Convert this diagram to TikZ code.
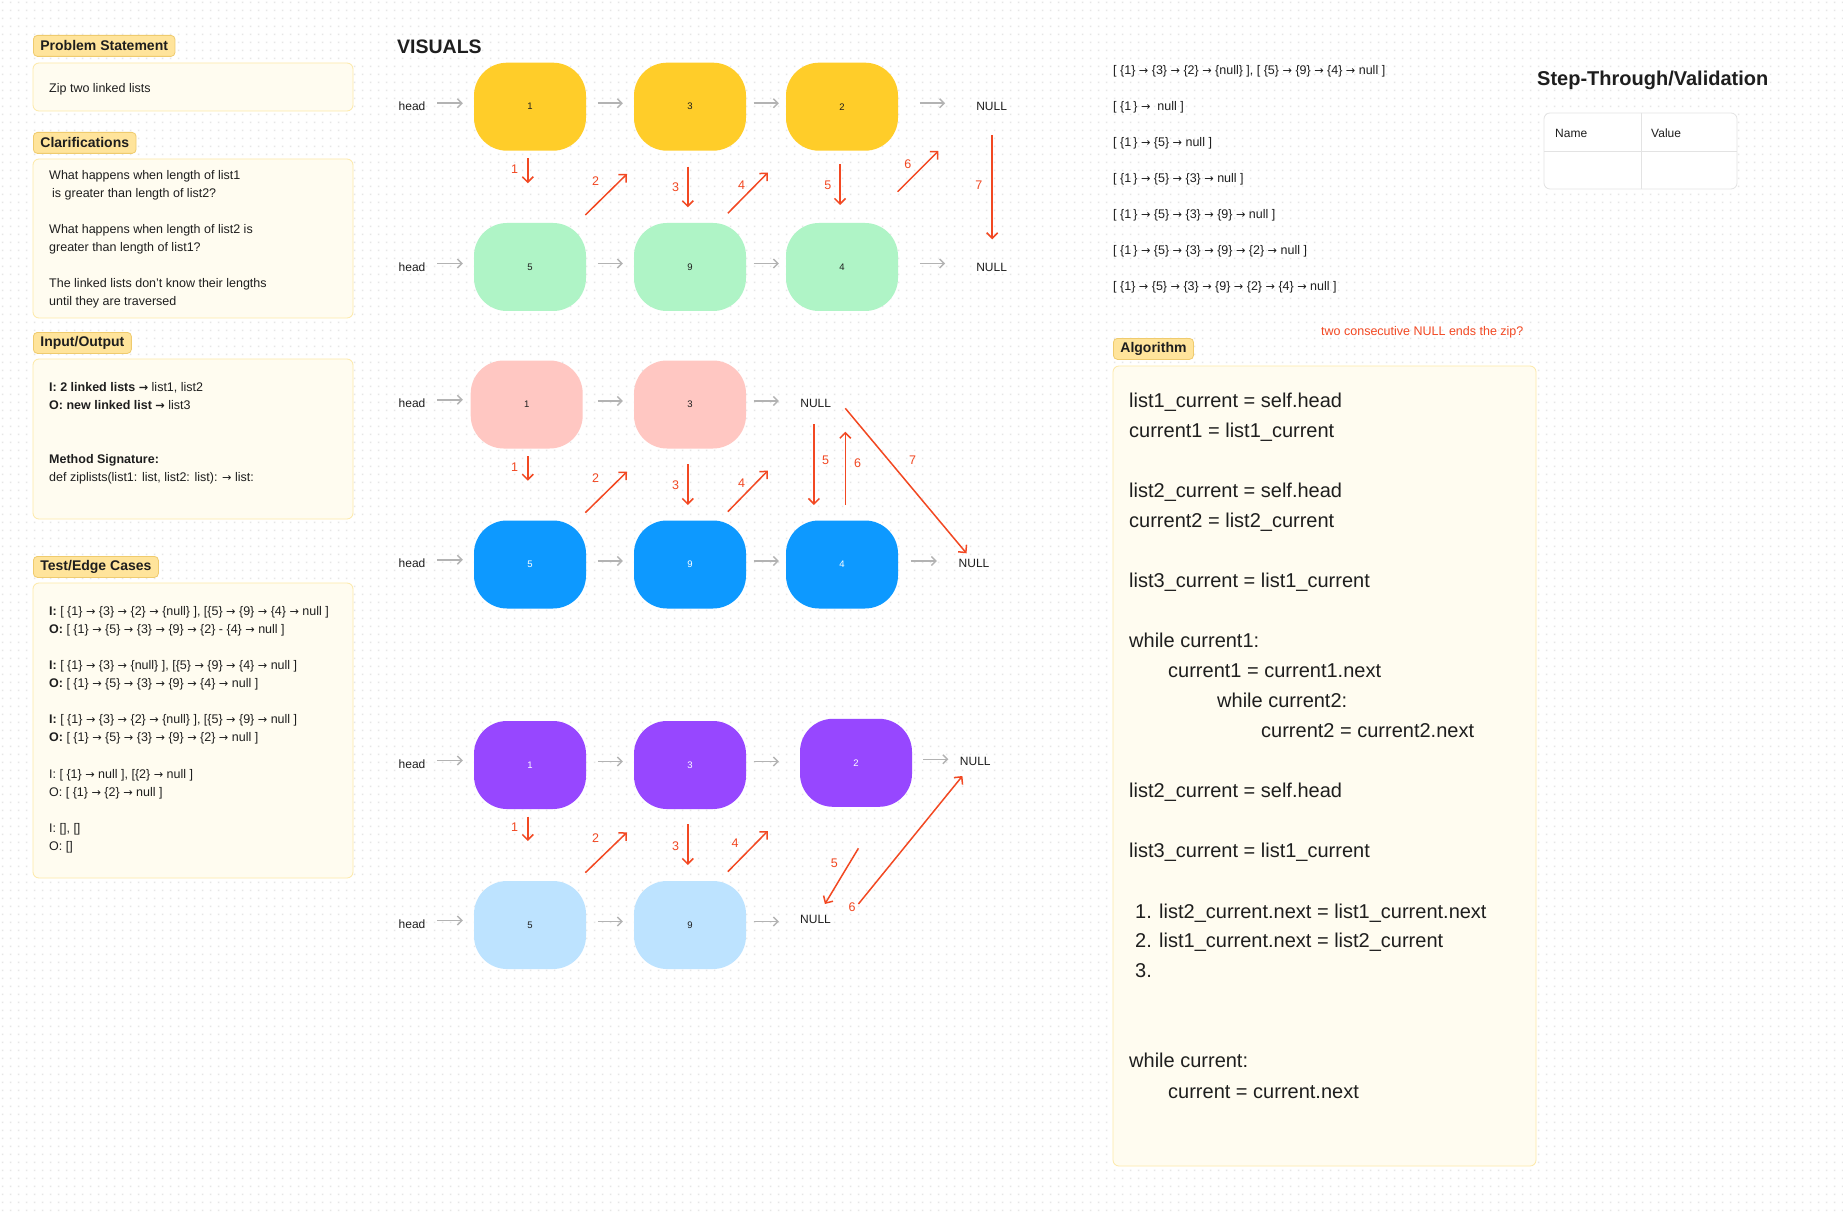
\documentclass[tikz,border=0pt]{standalone}
\usepackage{fontspec}
\setmainfont{Liberation Sans}
\newfontfamily\arrowfont{DejaVu Sans}
\usetikzlibrary{arrows.meta,patterns}
\definecolor{ink}{HTML}{1E1E1E}
\definecolor{tagfill}{HTML}{FFE49B}
\definecolor{tagborder}{HTML}{EFCB6E}
\definecolor{cardfill}{HTML}{FFFCF0}
\definecolor{cardborder}{HTML}{FDE9A7}
\definecolor{dotc}{HTML}{E6E6E6}
\definecolor{arrgray}{HTML}{B3B3B3}
\definecolor{redc}{HTML}{F24822}
\definecolor{cyellow}{HTML}{FFCD29}
\definecolor{cgreen}{HTML}{AFF4C6}
\definecolor{cpink}{HTML}{FFC7C2}
\definecolor{cblue}{HTML}{0D99FF}
\definecolor{cpurple}{HTML}{9747FF}
\definecolor{clblue}{HTML}{BDE3FF}
\definecolor{tblline}{HTML}{E3E3E3}
\newcommand\setfs[1]{\fontsize{#1}{#1}\selectfont}
\newcommand\ra{{\arrowfont\scalebox{0.9}{→}}}
\newcommand\tline[4][]{\node[txt,#1] (#2) at (#3) {#4};}
\pgfdeclarepatternformonly{griddots}{\pgfqpoint{0pt}{0pt}}{\pgfqpoint{8pt}{8pt}}{\pgfqpoint{8pt}{8pt}}{\pgfpathrectangle{\pgfqpoint{3.2pt}{3.2pt}}{\pgfqpoint{1.6pt}{1.6pt}}\pgfusepath{fill}}
\tikzset{
  txt/.style={inner sep=0pt, anchor=base west, text=ink, font=\setfs{12.5}},
  tag/.style={draw=tagborder, fill=tagfill, rounded corners=4pt, inner xsep=7pt, inner ysep=0pt, minimum height=21pt, anchor=north west, font=\setfs{14}\bfseries, text=ink, line width=0.8pt},
  card/.style={draw=cardborder, fill=cardfill, rounded corners=6pt, line width=0.8pt},
  lnode/.style={rectangle, rounded corners=33pt, minimum width=112pt, minimum height=88pt, inner sep=0pt, font=\setfs{9.5}},
  garrow/.style={draw=arrgray, line width=1.4pt, -{Straight Barb[length=4.5pt,width=9pt]}},
  rarrow/.style={draw=redc, line width=1.5pt, -{Straight Barb[length=5.5pt,width=11pt]}},
  rlab/.style={text=redc, font=\setfs{12.5}, inner sep=0pt},
  vtxt/.style={inner sep=0pt, font=\setfs{12}, text=ink},
}
\newcommand\garr[4]{\draw[garrow, shorten <=#3pt, shorten >=#4pt] ([yshift=3.5pt]#1.east) -- ([yshift=3.5pt]#1.east -| #2.west);}
\newcommand\rarr[5]{\draw[rarrow] (#1) coordinate (#4s) -- (#2) coordinate (#4e); \node[rlab] (#4l) at (#3) {#5};}
\begin{document}
\begin{tikzpicture}[x=1pt,y=-1pt]
\useasboundingbox (0,0) rectangle (1843,1214);
\fill[white] (0,0) rectangle (1843,1214);
\fill[pattern=griddots, pattern color=dotc] (0,0) rectangle (1843,1214);

% ---------------- left column ----------------
\node[tag] (tagps) at (33,35) {Problem Statement};
\draw[card] (33,63) rectangle (353,111);
\tline{ps1}{49,92.5}{Zip two linked lists}

\node[tag] (tagcl) at (33,132) {Clarifications};
\draw[card] (33,159) rectangle (353,318);
\tline{cl1}{49,179.5}{What happens when length of list1}
\tline{cl2}{49,197.5}{\hspace{3pt}is greater than length of list2?}
\tline{cl3}{49,233.5}{What happens when length of list2 is}
\tline{cl4}{49,251.5}{greater than length of list1?}
\tline{cl5}{49,287.5}{The linked lists don’t know their lengths}
\tline{cl6}{49,305.5}{until they are traversed}

\node[tag] (tagio) at (33,332) {Input/Output};
\draw[card] (33,359) rectangle (353,519);
\tline{io1}{49,391.5}{\textbf{I: 2 linked lists \ra{}} list1, list2}
\tline{io2}{49,409.5}{\textbf{O: new linked list \ra{}} list3}
\tline{io3}{49,463.5}{\textbf{Method Signature:}}
\tline{io4}{49,481.5}{def ziplists(list1: list, list2: list): \ra{} list:}

\node[tag] (tagtc) at (33,556) {Test/Edge Cases};
\draw[card] (33,583) rectangle (353,878);
\tline{tc1}{49,615.5}{\textbf{I:} [ \{1\} \ra{} \{3\} \ra{} \{2\} \ra{} \{null\} ], [\{5\} \ra{} \{9\} \ra{} \{4\} \ra{} null ]}
\tline{tc2}{49,633.5}{\textbf{O:} [ \{1\} \ra{} \{5\} \ra{} \{3\} \ra{} \{9\} \ra{} \{2\} - \{4\} \ra{} null ]}
\tline{tc3}{49,669.5}{\textbf{I:} [ \{1\} \ra{} \{3\} \ra{} \{null\} ], [\{5\} \ra{} \{9\} \ra{} \{4\} \ra{} null ]}
\tline{tc4}{49,687.5}{\textbf{O:} [ \{1\} \ra{} \{5\} \ra{} \{3\} \ra{} \{9\} \ra{} \{4\} \ra{} null ]}
\tline{tc5}{49,723.5}{\textbf{I:} [ \{1\} \ra{} \{3\} \ra{} \{2\} \ra{} \{null\} ], [\{5\} \ra{} \{9\} \ra{} null ]}
\tline{tc6}{49,741.5}{\textbf{O:} [ \{1\} \ra{} \{5\} \ra{} \{3\} \ra{} \{9\} \ra{} \{2\} \ra{} null ]}
\tline{tc7}{49,778.5}{I: [ \{1\} \ra{} null ], [\{2\} \ra{} null ]}
\tline{tc8}{49,796.5}{O: [ \{1\} \ra{} \{2\} \ra{} null ]}
\tline{tc9}{49,832.5}{I: [], []}
\tline{tc10}{49,850.5}{O: []}

% ---------------- visuals ----------------
\node[txt, font=\setfs{19.5}\bfseries] (vis) at (397,53.3) {VISUALS};

% rows 1-2
\node[vtxt] (h1) at (412,106.7) {head};
\node[lnode, fill=cyellow, text=ink] (n11) at (530,106.7) {1};
\node[lnode, fill=cyellow, text=ink] (n12) at (690,106.7) {3};
\node[lnode, fill=cyellow, text=ink] (n13) at (842,106.7) {2};
\node[vtxt] (z1) at (991.6,106.7) {NULL};
\node[vtxt] (h2) at (412,267) {head};
\node[lnode, fill=cgreen, text=ink] (n21) at (530,267) {5};
\node[lnode, fill=cgreen, text=ink] (n22) at (690,267) {9};
\node[lnode, fill=cgreen, text=ink] (n23) at (842,267) {4};
\node[vtxt] (z2) at (991.6,267) {NULL};
\garr{h1}{n11}{11.7}{11}
\garr{n11}{n12}{11.6}{11}
\garr{n12}{n13}{7.5}{7}
\garr{n13}{z1}{21.6}{31}
\garr{h2}{n21}{11.7}{11}
\garr{n21}{n22}{11.6}{11}
\garr{n22}{n23}{7.5}{7}
\garr{n23}{z2}{21.6}{31}
\rarr{527.8,158.3}{527.8,183.3}{514.7,169}{ra1}{1}
\rarr{585.3,215}{627,174}{595.5,181}{ra2}{2}
\rarr{687.8,166.7}{687.8,207.3}{675.5,187.3}{ra3}{3}
\rarr{727.8,213.3}{767.8,172.7}{741.6,185}{ra4}{4}
\rarr{840,164.3}{840,205}{827.8,185.7}{ra5}{5}
\rarr{897.6,191.7}{938.4,151}{907.8,164.3}{ra6}{6}
\rarr{992.2,135}{992.2,239.3}{978.8,185}{ra7}{7}

% rows 3-4
\node[vtxt] (h3) at (412,403.3) {head};
\node[lnode, fill=cpink, text=ink] (p1) at (526.7,404.5) {1};
\node[lnode, fill=cpink, text=ink] (p2) at (690,404.5) {3};
\node[vtxt] (z3) at (815.7,403.3) {NULL};
\node[vtxt] (h4) at (412,563.3) {head};
\node[lnode, fill=cblue, text=white] (b1) at (530,564.5) {5};
\node[lnode, fill=cblue, text=white] (b2) at (690,564.5) {9};
\node[lnode, fill=cblue, text=white] (b3) at (842,564.5) {4};
\node[vtxt] (z4) at (974,563.3) {NULL};
\garr{h3}{p1}{11.7}{7.7}
\garr{p1}{p2}{15}{11}
\garr{p2}{z3}{7.5}{21.4}
\garr{h4}{b1}{11.7}{11}
\garr{b1}{b2}{11.6}{11}
\garr{b2}{b3}{7.5}{7}
\garr{b3}{z4}{12.6}{21.6}
\rarr{527.8,456}{527.8,480.7}{514.7,466.7}{rb1}{1}
\rarr{585.3,512.7}{627,471.7}{595.5,478.3}{rb2}{2}
\rarr{687.8,464}{687.8,505}{675.5,485}{rb3}{3}
\rarr{727.8,511.7}{767.8,470.7}{741.6,483.3}{rb4}{4}
\rarr{813.9,424}{813.9,505}{825.7,460.7}{rb5}{5}
\rarr{845.3,505}{845.3,431.7}{857.6,462.7}{rb6}{6}
\rarr{845.3,408.3}{966.5,553.3}{912.7,460}{rb7}{7}

% rows 5-6
\node[vtxt] (h5) at (412,764) {head};
\node[lnode, fill=cpurple, text=white] (u1) at (530,765) {1};
\node[lnode, fill=cpurple, text=white] (u2) at (690,765) {3};
\node[lnode, fill=cpurple, text=white] (u3) at (856,762.8) {2};
\node[vtxt] (z5) at (975.3,761.7) {NULL};
\node[vtxt] (h6) at (412,924) {head};
\node[lnode, fill=clblue, text=ink] (l1) at (530,925) {5};
\node[lnode, fill=clblue, text=ink] (l2) at (690,925) {9};
\node[vtxt] (z6) at (815.5,919.3) {NULL};
\garr{h5}{u1}{11.7}{11}
\garr{u1}{u2}{11.6}{11}
\garr{u2}{u3}{7.5}{21}
\garr{u3}{z5}{11}{11.4}
\garr{h6}{l1}{11.7}{11}
\garr{l1}{l2}{11.6}{11}
\garr{l2}{z6}{7.5}{21.2}
\rarr{527.8,816.7}{527.8,841}{514.7,827.3}{rc1}{1}
\rarr{585.3,872.7}{627,832.3}{595.5,838.3}{rc2}{2}
\rarr{687.8,824.3}{687.8,865}{675.5,845.7}{rc3}{3}
\rarr{727.8,871.7}{767.8,831}{735.1,843.3}{rc4}{4}
\rarr{858.4,848.3}{824.9,904}{834.3,863.3}{rc5}{5}
\rarr{858.4,904}{962.4,776}{852.2,906.7}{rc6}{6}

% ---------------- right: trace ----------------
\tline{tr1}{1113,74.5}{[ \{1\} \ra{} \{3\} \ra{} \{2\} \ra{} \{null\} ], [ \{5\} \ra{} \{9\} \ra{} \{4\} \ra{} null ]}
\tline{tr2}{1113,110.5}{[ \{1\,\} \ra{} \ null ]}
\tline{tr3}{1113,146.5}{[ \{1\,\} \ra{} \{5\} \ra{} null ]}
\tline{tr4}{1113,182.5}{[ \{1\,\} \ra{} \{5\} \ra{} \{3\} \ra{} null ]}
\tline{tr5}{1113,218.5}{[ \{1\,\} \ra{} \{5\} \ra{} \{3\} \ra{} \{9\} \ra{} null ]}
\tline{tr6}{1113,254.5}{[ \{1\,\} \ra{} \{5\} \ra{} \{3\} \ra{} \{9\} \ra{} \{2\} \ra{} null ]}
\tline{tr7}{1113,290.5}{[ \{1\} \ra{} \{5\} \ra{} \{3\} \ra{} \{9\} \ra{} \{2\} \ra{} \{4\} \ra{} null ]}

\tline[text=redc]{note}{1321,335.5}{two consecutive NULL ends the zip?}

% ---------------- algorithm ----------------
\node[tag] (tagal) at (1113,338) {Algorithm};
\draw[card] (1113,366) rectangle (1536,1166);
\tline[font=\setfs{20}]{al1}{1129,407.2}{list1\_current = self.head}
\tline[font=\setfs{20}]{al2}{1129,437.2}{current1 = list1\_current}
\tline[font=\setfs{20}]{al3}{1129,497.2}{list2\_current = self.head}
\tline[font=\setfs{20}]{al4}{1129,527.2}{current2 = list2\_current}
\tline[font=\setfs{20}]{al5}{1129,587.2}{list3\_current = list1\_current}
\tline[font=\setfs{20}]{al6}{1129,647.2}{while current1:}
\tline[font=\setfs{20}]{al7}{1168,677.5}{current1 = current1.next}
\tline[font=\setfs{20}]{al8}{1217,707.8}{while current2:}
\tline[font=\setfs{20}]{al9}{1261,737.4}{current2 = current2.next}
\tline[font=\setfs{20}]{al10}{1129,797.7}{list2\_current = self.head}
\tline[font=\setfs{20}]{al11}{1129,857.7}{list3\_current = list1\_current}
\tline[font=\setfs{20}]{al12n}{1135,918}{1.}
\tline[font=\setfs{20}]{al12}{1159,918}{list2\_current.next = list1\_current.next}
\tline[font=\setfs{20}]{al13n}{1135,947.6}{2.}
\tline[font=\setfs{20}]{al13}{1159,947.6}{list1\_current.next = list2\_current}
\tline[font=\setfs{20}]{al14n}{1135,977.2}{3.}
\tline[font=\setfs{20}]{al15}{1129,1067.8}{while current:}
\tline[font=\setfs{20}]{al16}{1168,1098.2}{current = current.next}

% ---------------- step-through ----------------
\tline[font=\setfs{20}\bfseries]{st}{1537,86}{Step-Through/Validation}
\draw[draw=tblline, fill=white, rounded corners=6pt, line width=0.8pt] (1544,113) rectangle (1737,189);
\draw[tblline, line width=0.8pt] (1641,113) -- (1641,189);
\draw[tblline, line width=0.8pt] (1544,151) -- (1737,151);
\tline[font=\setfs{12}]{tn}{1555,137.3}{Name}
\tline[font=\setfs{12}]{tv}{1651,137.3}{Value}
\end{tikzpicture}
\end{document}
